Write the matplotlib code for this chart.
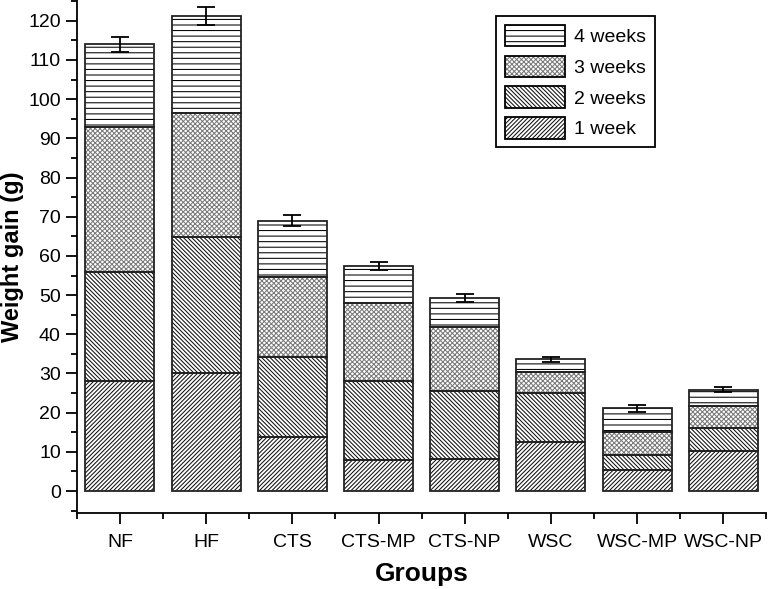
import matplotlib
matplotlib.use("Agg")
import matplotlib.pyplot as plt
from matplotlib.ticker import MultipleLocator, FixedLocator
from matplotlib.patches import Patch

plt.rcParams['font.family'] = ['Liberation Sans', 'DejaVu Sans']
plt.rcParams['hatch.linewidth'] = 0.75

groups = ['NF', 'HF', 'CTS', 'CTS-MP', 'CTS-NP', 'WSC', 'WSC-MP', 'WSC-NP']
# cumulative weight gain at end of each week (g)
week1 = [28.0, 30.2, 13.7, 8.0, 8.1, 12.5, 5.3, 10.2]
week2 = [56.0, 64.8, 34.3, 28.0, 25.5, 25.0, 9.1, 16.0]
week3 = [93.0, 96.5, 54.5, 48.0, 41.8, 30.3, 15.0, 21.6]
week4 = [114.0, 121.2, 69.0, 57.5, 49.3, 33.6, 21.1, 25.9]
err4 = [1.9, 2.4, 1.4, 1.0, 1.1, 0.7, 0.9, 0.7]

labels = ['1 week', '2 weeks', '3 weeks', '4 weeks']
hatches = ['////////', '\\\\\\\\\\\\\\\\', 'xxxxxxx', '---']
hatch_cols = ['#111111', '#111111', '#7a7a7a', 'black']

cum = [week1, week2, week3, week4]
x = list(range(len(groups)))
width = 0.8

fig = plt.figure(figsize=(7.68, 5.89), dpi=100)
ax = fig.add_axes([0.1, 0.129, 0.898, 0.871])

for k in range(4):
    bottom = [0.0] * len(groups) if k == 0 else cum[k - 1]
    height = [c - b for c, b in zip(cum[k], bottom)]
    ax.bar(x, height, width, bottom=bottom, color='white',
           edgecolor=hatch_cols[k], hatch=hatches[k], linewidth=0, zorder=2)
    ax.bar(x, height, width, bottom=bottom, fill=False,
           edgecolor='#222222', linewidth=1.3, zorder=3)

ax.errorbar(x, week4, yerr=err4, fmt='none', ecolor='black',
            elinewidth=1.3, capsize=6.5, capthick=1.3, zorder=4)

ax.set_xlim(-0.5, 7.5)
ax.set_ylim(-5.6, 125.3)
ax.set_xticks(x)
ax.set_xticklabels(groups)
ax.xaxis.set_minor_locator(FixedLocator([i + 0.5 for i in range(-1, 8)]))
ax.yaxis.set_major_locator(MultipleLocator(10))
ax.yaxis.set_minor_locator(MultipleLocator(5))
ax.set_yticks(range(0, 121, 10))

for s in ['top', 'right']:
    ax.spines[s].set_visible(False)
for s in ['left', 'bottom']:
    ax.spines[s].set_linewidth(1.3)

ax.tick_params(which='major', direction='out', length=8, width=1.3,
               labelsize=14)
ax.tick_params(which='minor', direction='out', length=4, width=1.3)
ax.tick_params(axis='x', which='major', pad=7)

ax.set_xlabel('Groups', fontsize=19, fontweight='bold', labelpad=8)
ax.set_ylabel('Weight gain (g)', fontsize=17, fontweight='bold', labelpad=3)

handles = []
for k in range(4):
    fill = Patch(facecolor='white', edgecolor=hatch_cols[k],
                 hatch=hatches[k], linewidth=0)
    edge = Patch(fill=False, edgecolor='black', linewidth=1.3)
    handles.append((fill, edge))

leg = ax.legend(handles[::-1], labels[::-1], loc='upper right',
                bbox_to_anchor=(0.852, 0.988), fontsize=14, fancybox=False,
                edgecolor='black', framealpha=1, handlelength=3.1,
                handleheight=1.3, borderpad=0.45, labelspacing=0.5,
                handletextpad=0.45)
leg.get_frame().set_linewidth(1.3)

fig.savefig('out.png', dpi=100)
